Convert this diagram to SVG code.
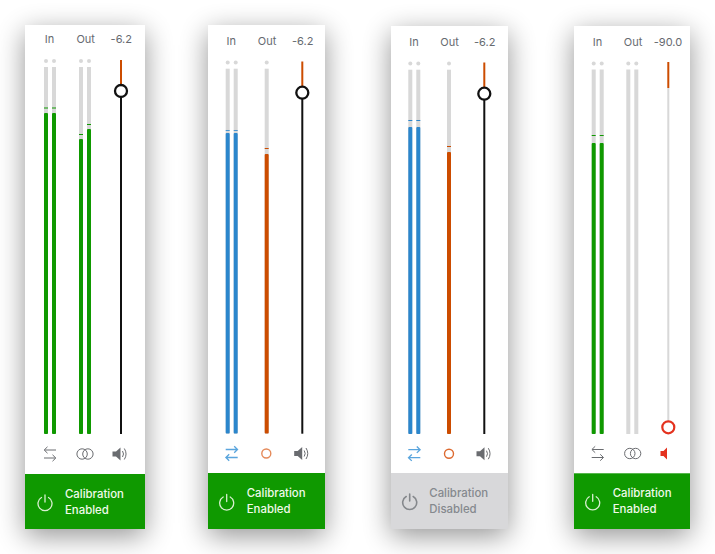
<svg xmlns="http://www.w3.org/2000/svg" xmlns:xlink="http://www.w3.org/1999/xlink" width="715" height="554" viewBox="0 0 715 554">
<style>
text{font-family:"Inter","Liberation Sans",sans-serif}
.lbl{font-size:11px;fill:#666a70;text-anchor:middle}
.cal{font-size:11.400px;font-weight:500;fill:#f0faea}
.dis{fill:#85898e}
.track{fill:#d8d8d8}
.dot{fill:#d8d8d8}
.g{fill:#0f9900}.b{fill:#2b86cc}.o{fill:#cc4c00}
.pw{fill:none;stroke:#d9efd0;stroke-width:1.300;stroke-linecap:round}
.pd{stroke:#85888c;stroke-width:1.600}
.ic{fill:none;stroke:#6a6c70;stroke-width:1}
.ib{fill:none;stroke:#5aa5dd;stroke-width:1.300}
.sp{fill:#6a6c70}
.knob{fill:#fff;stroke:#111;stroke-width:2.300}
</style>
<defs>
<filter id="sh" x="-50%" y="-12%" width="200%" height="124%"><feGaussianBlur stdDeviation="14"/></filter>
<path id="swap" d="M6-4H-5.500M-2.500-7.200L-5.800-4L-2.500-.8M-6 4H5.500M2.500.8L5.800 4L2.500 7.200"/>
<path id="swapb" d="M-6-4H5.500M2.500-7.200L5.800-4L2.500-.8M6 4H-5.500M-2.500.8L-5.800 4L-2.500 7.200"/>
<g id="rings" class="ic"><circle cx="-2.900" r="5.200"/><circle cx="2.900" r="5.200"/></g>
<g id="spk"><path class="sp" d="M-7.500-2.500H-4L.5-6.500V6.500L-4 2.500H-7.500Z"/><path class="ic" d="M2.500-3Q4.500 0 2.500 3M4.300-5.500Q7.800 0 4.300 5.500"/></g>
<path id="power" d="M-3.500-5.500A7 7 0 1 0 3.500-5.500M0-8V-1"/>
</defs>

<g fill="#000" opacity=".42" filter="url(#sh)">
<rect x="25" y="32" width="120" height="504"/>
<rect x="208" y="32" width="117" height="504"/>
<rect x="391" y="33" width="117" height="503"/>
<rect x="574" y="33" width="116" height="503"/>
</g>

<g id="panel-1">
<rect x="25" y="25" width="120" height="504" fill="#fff"/>
<text class="lbl" x="49.500" y="43">In</text><text class="lbl" x="85.700" y="43">Out</text><text class="lbl" x="121.300" y="43">-6.2</text>
<circle class="dot" cx="46" cy="61" r="2"/><circle class="dot" cx="54" cy="61" r="2"/><circle class="dot" cx="81" cy="61" r="2"/><circle class="dot" cx="89" cy="61" r="2"/>
<rect class="track" x="44" y="67" width="4" height="367"/><rect class="track" x="52" y="67" width="4" height="367"/><rect class="track" x="79" y="67" width="4" height="367"/><rect class="track" x="87" y="67" width="4" height="367"/>
<rect class="g" x="44" y="107.500" width="4" height="1"/><rect class="g" x="52" y="107.500" width="4" height="1"/><rect class="g" x="79" y="134" width="4" height="1"/><rect class="g" x="87" y="124" width="4" height="1"/>
<rect class="g" x="44" y="113" width="4" height="321" rx="1"/><rect class="g" x="52" y="113" width="4" height="321" rx="1"/><rect class="g" x="79" y="139" width="4" height="295" rx="1"/><rect class="g" x="87" y="129" width="4" height="305" rx="1"/>
<rect class="o" x="120" y="60" width="2" height="31"/><rect x="120" y="91" width="2" height="343" fill="#111"/>
<circle class="knob" cx="121" cy="91" r="6"/>
<use class="ic" href="#swap" x="50" y="454"/><use href="#rings" x="85" y="454"/><use href="#spk" x="120" y="454"/>
<rect class="g" x="25" y="474" width="120" height="55"/>
<use class="pw" href="#power" x="45" y="503"/>
<text class="cal" x="65" y="497.700">Calibration</text><text class="cal" x="65" y="514">Enabled</text>
</g>

<g id="panel-2">
<rect x="208" y="25" width="117" height="504" fill="#fff"/>
<text class="lbl" x="231.300" y="44.700">In</text><text class="lbl" x="267" y="44.700">Out</text><text class="lbl" x="302.700" y="44.700">-6.2</text>
<circle class="dot" cx="227.700" cy="62.500" r="2"/><circle class="dot" cx="235.700" cy="62.500" r="2"/><circle class="dot" cx="266.700" cy="62.500" r="2"/>
<rect class="track" x="225.700" y="68.700" width="4" height="365"/><rect class="track" x="233.700" y="68.700" width="4" height="365"/><rect class="track" x="264.700" y="68.700" width="4" height="365"/>
<rect class="b" opacity=".8" x="225.700" y="130" width="4" height="1"/><rect class="b" opacity=".8" x="233.700" y="130" width="4" height="1"/><rect class="o" x="264.700" y="148" width="4" height="1"/>
<rect class="b" x="225.700" y="133" width="4" height="300.500" rx="1"/><rect class="b" x="233.700" y="133" width="4" height="300.500" rx="1"/><rect class="o" x="264.700" y="154" width="4" height="279.500" rx="1"/>
<rect class="o" x="301.300" y="61.500" width="2" height="31"/><rect x="301.300" y="92.700" width="2" height="341" fill="#111"/>
<circle class="knob" cx="302.300" cy="92.700" r="6"/>
<use class="ib" href="#swapb" x="231.700" y="453.500"/><circle cx="266.300" cy="453.500" r="4.500" fill="none" stroke="#e58a5a" stroke-width="1.400"/><use href="#spk" x="301.700" y="453.500"/>
<rect class="g" x="208" y="473" width="117" height="56"/>
<use class="pw" href="#power" x="226.700" y="502.500"/>
<text class="cal" x="246.700" y="497.300">Calibration</text><text class="cal" x="246.700" y="513.300">Enabled</text>
</g>

<g id="panel-3">
<rect x="391" y="26" width="117" height="503" fill="#fff"/>
<text class="lbl" x="414" y="46">In</text><text class="lbl" x="449.500" y="46">Out</text><text class="lbl" x="484.700" y="46">-6.2</text>
<circle class="dot" cx="410.300" cy="63.500" r="2"/><circle class="dot" cx="418.300" cy="63.500" r="2"/><circle class="dot" cx="449" cy="63.500" r="2"/>
<rect class="track" x="408.300" y="69.700" width="4" height="364.300"/><rect class="track" x="416.300" y="69.700" width="4" height="364.300"/><rect class="track" x="447" y="69.700" width="4" height="364.300"/>
<rect class="b" x="408.300" y="120" width="4" height="1"/><rect class="b" x="416.300" y="120" width="4" height="1"/><rect class="o" x="447" y="146" width="4" height="1"/>
<rect class="b" x="408.300" y="127" width="4" height="307" rx="1"/><rect class="b" x="416.300" y="127" width="4" height="307" rx="1"/><rect class="o" x="447" y="152" width="4" height="282" rx="1"/>
<rect class="o" x="483.300" y="62.500" width="2" height="31"/><rect x="483.300" y="93.700" width="2" height="340.300" fill="#111"/>
<circle class="knob" cx="484.300" cy="93.700" r="6"/>
<use class="ib" href="#swapb" x="414.300" y="453.700"/><circle cx="449" cy="453.700" r="4.500" fill="none" stroke="#dd6a30" stroke-width="1.400"/><use href="#spk" x="484" y="453.700"/>
<rect x="391" y="473" width="117" height="56" fill="#d8d8da"/>
<use class="pw pd" href="#power" x="409.700" y="502"/>
<text class="cal dis" x="429.300" y="497.300">Calibration</text><text class="cal dis" x="429.300" y="513.300">Disabled</text>
</g>

<g id="panel-4">
<rect x="574" y="26" width="116" height="503" fill="#fff"/>
<text class="lbl" x="597.500" y="46">In</text><text class="lbl" x="633" y="46">Out</text><text class="lbl" x="668" y="46">-90.0</text>
<circle class="dot" cx="593.700" cy="63.500" r="2"/><circle class="dot" cx="601.700" cy="63.500" r="2"/><circle class="dot" cx="628.300" cy="63.500" r="2"/><circle class="dot" cx="636.300" cy="63.500" r="2"/>
<rect class="track" x="591.700" y="69.500" width="4" height="364.500"/><rect class="track" x="599.700" y="69.500" width="4" height="364.500"/><rect class="track" x="626.300" y="69.500" width="4" height="364.500"/><rect class="track" x="634.300" y="69.500" width="4" height="364.500"/>
<rect class="g" x="591.700" y="135" width="4" height="1"/><rect class="g" x="599.700" y="135" width="4" height="1"/>
<rect class="g" x="591.700" y="143" width="4" height="291" rx="1"/><rect class="g" x="599.700" y="143" width="4" height="291" rx="1"/>
<rect class="o" x="667.300" y="62" width="2" height="26"/><rect class="track" x="667.300" y="88" width="2" height="333"/>
<circle cx="668.300" cy="427.300" r="6" fill="#fff" stroke="#e4321e" stroke-width="2.200"/>
<use class="ic" href="#swap" x="597.700" y="453.500"/><use href="#rings" x="632.700" y="453.500"/><path d="M660.500 451H663.500L667 447.500V459.500L663.500 456H660.500Z" fill="#e4321e"/>
<rect class="g" x="574" y="473.300" width="116" height="55.700"/>
<use class="pw" href="#power" x="592.700" y="502.300"/>
<text class="cal" x="612.700" y="497.300">Calibration</text><text class="cal" x="612.700" y="513.300">Enabled</text>
</g>
</svg>
